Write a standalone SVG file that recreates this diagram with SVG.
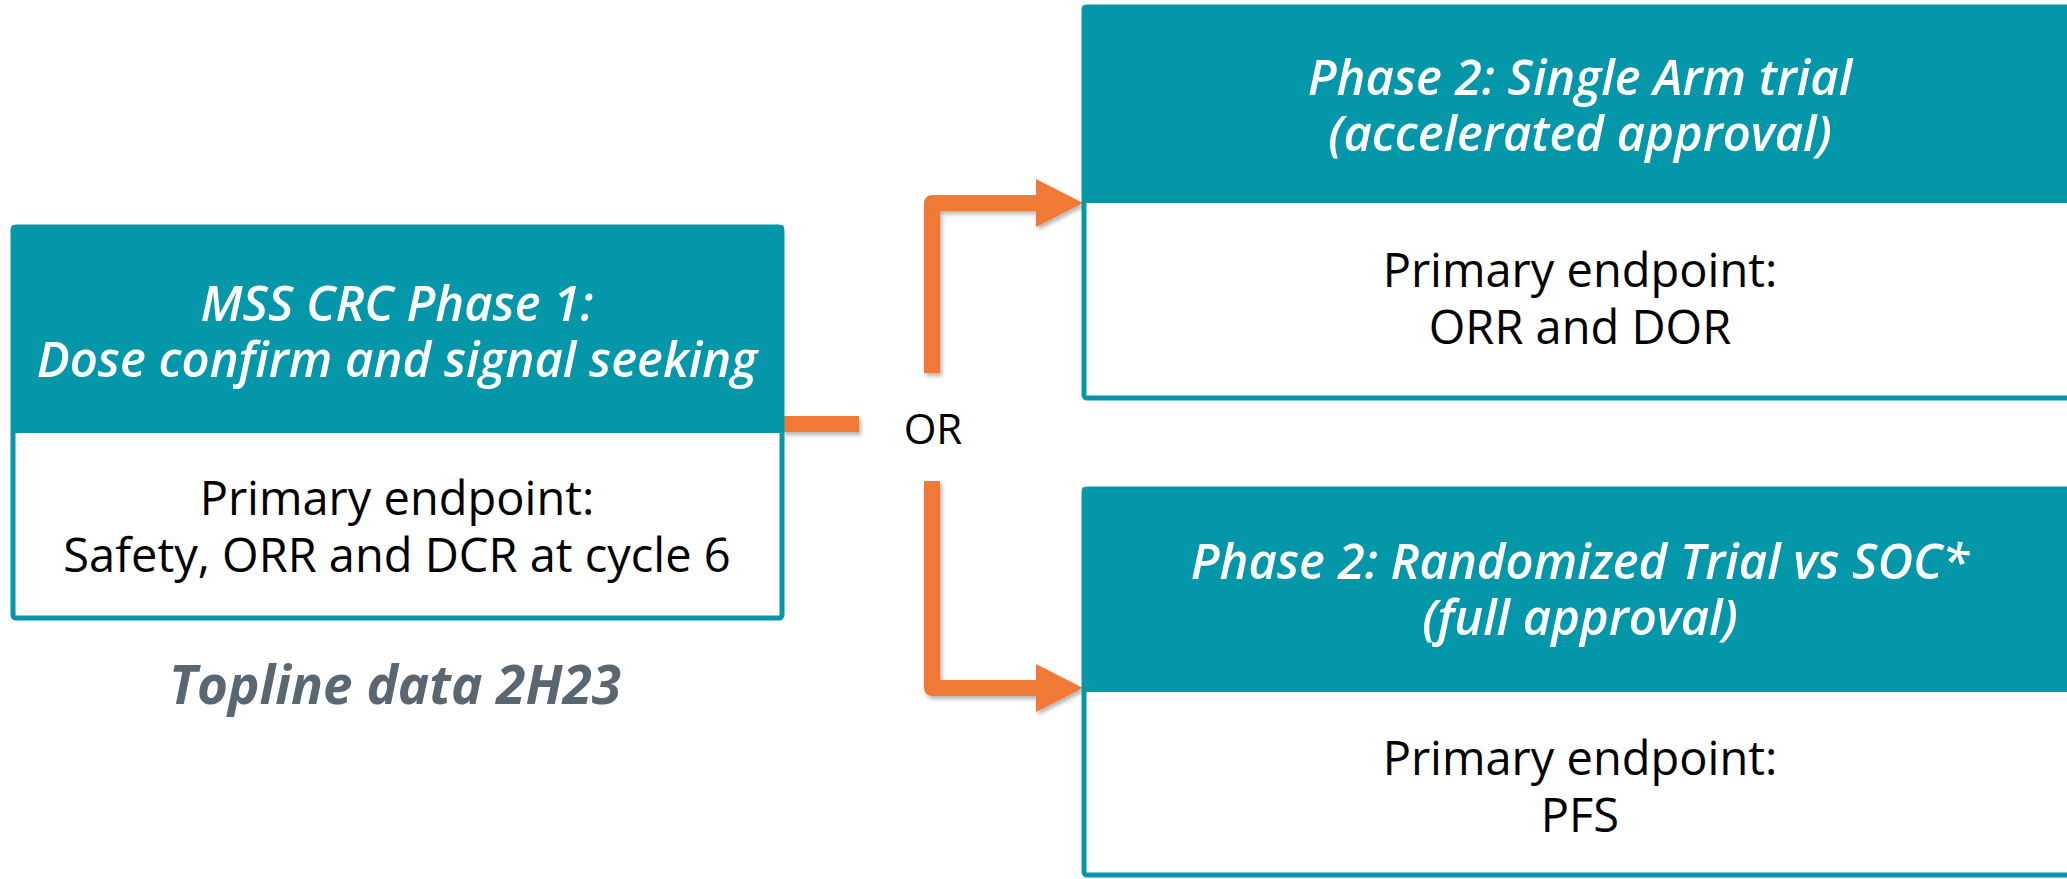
<svg xmlns="http://www.w3.org/2000/svg" width="2067" height="879" viewBox="0 0 2067 879">
<style>
.hdr{fill:#0497A9}
.frame{fill:#fff;stroke:#0497A9;stroke-width:5}
.ht{font-family:"Open Sans","Liberation Sans",sans-serif;font-style:italic;font-weight:600;font-size:49px;fill:#fff;text-anchor:middle}
.bt{font-family:"Open Sans","Liberation Sans",sans-serif;font-size:47px;fill:#000;text-anchor:middle}
.conn{fill:none;stroke:#F07A35;stroke-width:16;stroke-linejoin:round}
</style>
<defs>
<filter id="sh" x="-20%" y="-20%" width="140%" height="140%">
<feDropShadow dx="2" dy="3" stdDeviation="2" flood-color="#000" flood-opacity="0.3"/>
</filter>
<marker id="ah" markerUnits="userSpaceOnUse" markerWidth="48" markerHeight="48" refX="0" refY="24" orient="auto" viewBox="0 0 48 48">
<path d="M0,0 L47,24 L0,48 Z" fill="#F07A35"/>
</marker>
</defs>
<rect width="2067" height="879" fill="#fff"/>

<g id="connectors" filter="url(#sh)">
<path class="conn" d="M782,424 H859"/>
<path class="conn" d="M932,373 V203 H1036" marker-end="url(#ah)"/>
<path class="conn" d="M932,481 V688 H1036" marker-end="url(#ah)"/>
</g>

<g id="node-phase1">
<rect class="frame" x="13" y="227" width="769" height="391" rx="3"/>
<rect class="hdr" x="11" y="225" width="773" height="208" rx="3"/>
<text class="ht" x="397" y="321">MSS CRC Phase 1:</text>
<text class="ht" x="397" y="377">Dose confirm and signal seeking</text>
<text class="bt" x="397" y="515">Primary endpoint:</text>
<text class="bt" x="397" y="572">Safety, ORR and DCR at cycle 6</text>
</g>

<g id="node-topline">
<text x="395" y="704" font-family="'Open Sans','Liberation Sans',sans-serif" font-style="italic" font-weight="bold" font-size="53" fill="#5A6670" text-anchor="middle">Topline data 2H23</text>
</g>

<g id="node-or">
<text x="933" y="444" font-family="'Open Sans','Liberation Sans',sans-serif" font-size="42" fill="#000" text-anchor="middle">OR</text>
</g>

<g id="node-single-arm">
<rect class="frame" x="1084" y="7" width="1000" height="391" rx="3"/>
<rect class="hdr" x="1082" y="5" width="1004" height="198" rx="3"/>
<text class="ht" x="1580" y="95">Phase 2: Single Arm trial</text>
<text class="ht" x="1580" y="151">(accelerated approval)</text>
<text class="bt" x="1580" y="287">Primary endpoint:</text>
<text class="bt" x="1580" y="344">ORR and DOR</text>
</g>

<g id="node-randomized">
<rect class="frame" x="1084" y="489" width="1000" height="386" rx="3"/>
<rect class="hdr" x="1082" y="487" width="1004" height="205" rx="3"/>
<text class="ht" x="1580" y="579">Phase 2: Randomized Trial vs SOC*</text>
<text class="ht" x="1580" y="635">(full approval)</text>
<text class="bt" x="1580" y="775">Primary endpoint:</text>
<text class="bt" x="1580" y="832">PFS</text>
</g>
</svg>
